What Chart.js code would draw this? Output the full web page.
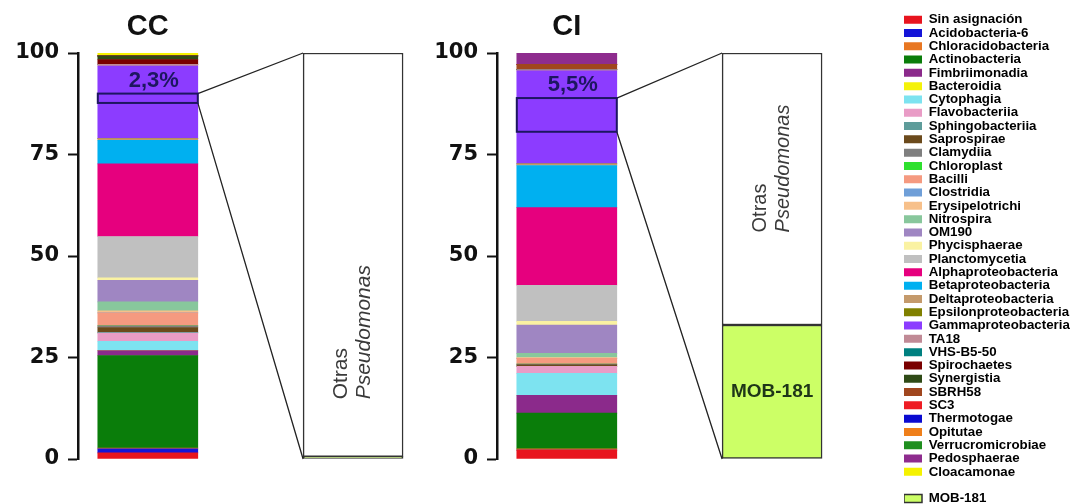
<!DOCTYPE html>
<html>
<head>
<meta charset="utf-8">
<script src="https://cdn.jsdelivr.net/npm/chart.js@4.4.1/dist/chart.umd.min.js"></script>
<style>
  html, body { margin: 0; padding: 0; background: #fff; }
  #wrap { position: relative; width: 1090px; height: 504px; overflow: hidden; }
  canvas { position: absolute; top: 0; }
  #cc { left: 0; }
  #ci { left: 419px; }
  #leg { left: 895px; }
</style>
</head>
<body>
<div id="wrap">
  <canvas id="cc" width="427" height="504"></canvas>
  <canvas id="ci" width="427" height="504"></canvas>
  <canvas id="leg" width="195" height="504"></canvas>
</div>
<script>
/* ===== Datos ===== */
const taxa = [
  'Sin asignación', 'Acidobacteria-6', 'Chloracidobacteria', 'Actinobacteria', 'Fimbriimonadia',
  'Bacteroidia', 'Cytophagia', 'Flavobacteriia', 'Sphingobacteriia', 'Saprospirae',
  'Clamydiia', 'Chloroplast', 'Bacilli', 'Clostridia', 'Erysipelotrichi',
  'Nitrospira', 'OM190', 'Phycisphaerae', 'Planctomycetia', 'Alphaproteobacteria',
  'Betaproteobacteria', 'Deltaproteobacteria', 'Epsilonproteobacteria', 'Gammaproteobacteria', 'TA18',
  'VHS-B5-50', 'Spirochaetes', 'Synergistia', 'SBRH58', 'SC3',
  'Thermotogae', 'Opitutae', 'Verrucromicrobiae', 'Pedosphaerae', 'Cloacamonae'
];
const taxaColors = [
  '#e8141e', '#1414d8', '#e87722', '#0a7d0a', '#8b2a8b',
  '#f4f20a', '#7de3f0', '#e99cc6', '#5e9c9a', '#6b4a1c',
  '#7f7f7f', '#2ee02e', '#f59a80', '#6f9fd8', '#f7c08a',
  '#88c79c', '#9f86c2', '#faf2a2', '#c0c0c0', '#e6007e',
  '#00b0f0', '#c49a6c', '#808000', '#8c3cff', '#c08a96',
  '#008080', '#7a0000', '#2f4a16', '#a0461e', '#ee1c24',
  '#0a0ad0', '#ef7f1a', '#1f8f1f', '#8e2c8e', '#f5f200'
];
// % relativo (CC y CI), mismo orden que taxa, de abajo hacia arriba
const ccValues = [
  1.5, 1.0, 0.2, 22.8, 1.2,
  0, 2.3, 2.0, 0.2, 1.2,
  0.4, 0, 3.2, 0, 0.5,
  2.2, 5.3, 0.6, 10.2, 17.9,
  5.8, 0.4, 0, 17.9, 0.4,
  0, 1.2, 0.9, 0, 0,
  0, 0, 0, 0, 0.7
];
const ciValues = [
  2.2, 0, 0.3, 8.8, 4.4,
  0, 5.4, 1.7, 0, 0.4,
  0.2, 0, 1.4, 0, 0.2,
  1.0, 7.0, 0.9, 8.9, 19.1,
  10.4, 0.4, 0, 22.9, 0.3,
  0, 0, 0, 1.3, 0,
  0, 0, 0, 2.8, 0
];
// Detalle de Pseudomonas: [MOB-181, Otras Pseudomonas]
const zoomLabels = ['MOB-181', 'Otras Pseudomonas'];
const ccZoom = [0.6, 99.4];
const ciZoom = [33, 67];
// Fracción de Gammaproteobacteria resaltada [desde, hasta]
const ccHighlight = [87.7, 90.0];
const ciHighlight = [80.6, 88.9];
const ccPercent = '2,3%';
const ciPercent = '5,5%';
const yTicks = [0, 25, 50, 75, 100];

const mobColor = '#ccff66';
const edgeColor = '#333';
const sans = '"Liberation Sans", Arial, sans-serif';

Chart.defaults.font.family = sans;
Chart.defaults.color = '#111';

/* ===== Overlay: caja resaltada, conectores, textos ===== */
const overlay = {
  id: 'overlay',
  afterDatasetsDraw(chart, args, o) {
    const { ctx, scales: { y } } = chart;
    const n = taxa.length;
    const bar = chart.getDatasetMeta(taxa.indexOf('Gammaproteobacteria')).data[0];
    const mob = chart.getDatasetMeta(n).data[0];
    const otras = chart.getDatasetMeta(n + 1).data[0];
    const left = bar.x - bar.width / 2, right = bar.x + bar.width / 2;
    const top = y.getPixelForValue(o.highlight[1]);
    const bottom = y.getPixelForValue(o.highlight[0]);
    const zl = otras.x - otras.width / 2;

    ctx.save();
    // conectores
    ctx.strokeStyle = '#222';
    ctx.lineWidth = 1.3;
    ctx.beginPath();
    ctx.moveTo(right, top); ctx.lineTo(zl, y.getPixelForValue(100));
    ctx.moveTo(right, bottom); ctx.lineTo(zl, y.getPixelForValue(0));
    ctx.stroke();

    // caja resaltada
    ctx.strokeStyle = '#1d1660';
    ctx.lineWidth = 2;
    ctx.strokeRect(left, top, right - left, bottom - top);

    // porcentaje
    ctx.fillStyle = '#1d1660';
    ctx.font = 'bold 22px ' + sans;
    ctx.textAlign = 'center';
    ctx.textBaseline = 'middle';
    ctx.fillText(o.percent, bar.x + 6, top - 13);

    // título
    ctx.fillStyle = '#111';
    ctx.font = 'bold 29px "Liberation Sans Narrow", ' + sans;
    ctx.fillText(o.title, bar.x, 27);

    // MOB-181
    if (o.showMob) {
      ctx.fillStyle = '#1e3518';
      ctx.font = 'bold 19px ' + sans;
      ctx.fillText(zoomLabels[0], mob.x, (mob.y + mob.base) / 2);
    }

    // Otras Pseudomonas (vertical)
    ctx.translate(otras.x, y.getPixelForValue(o.textAt));
    ctx.rotate(-Math.PI / 2);
    ctx.textAlign = 'left';
    ctx.fillStyle = '#3a3a3a';
    ctx.font = o.textSize + 'px ' + sans;
    ctx.fillText('Otras', 0, -12);
    ctx.font = 'italic ' + o.textSize + 'px ' + sans;
    ctx.fillText('Pseudomonas', 0, 11);
    ctx.restore();
  }
};

function panelDatasets(values, zoom) {
  const ds = taxa.map((name, i) => ({
    label: name,
    data: [{ x: 0, y: values[i] }],
    backgroundColor: taxaColors[i],
    borderWidth: 0
  }));
  ds.push({
    label: zoomLabels[0], data: [{ x: 1, y: zoom[0] }],
    backgroundColor: mobColor, borderColor: edgeColor, borderWidth: 1.5, borderSkipped: false
  });
  ds.push({
    label: zoomLabels[1], data: [{ x: 1, y: zoom[1] }],
    backgroundColor: '#fff', borderColor: edgeColor, borderWidth: 1.5, borderSkipped: false
  });
  return ds;
}

function panel(id, values, zoom, cfg) {
  return new Chart(document.getElementById(id), {
    type: 'bar',
    data: { datasets: panelDatasets(values, zoom) },
    options: {
      responsive: false,
      animation: false,
      devicePixelRatio: 1,
      barThickness: 100,
      layout: { padding: { top: 53, bottom: 45, left: 0, right: 0 } },
      scales: {
        x: { type: 'linear', stacked: true, display: false, offset: false, min: -0.34, max: 1.36 },
        y: {
          stacked: true, min: 0, max: 100,
          afterBuildTicks: s => { s.ticks = yTicks.map(v => ({ value: v })); },
          afterFit: s => { s.width = 78; },
          border: { display: true, color: '#111', width: 2.5 },
          grid: { drawOnChartArea: false, drawTicks: true, tickLength: 10, tickColor: '#111', tickWidth: 2 },
          ticks: { color: '#111', padding: 9, font: { family: '"DejaVu Sans", sans-serif', weight: 'bold', size: 21 } }
        }
      },
      plugins: {
        legend: { display: false },
        tooltip: { enabled: false },
        overlay: cfg
      }
    },
    plugins: [overlay]
  });
}

panel('cc', ccValues, ccZoom, { title: 'CC', percent: ccPercent, highlight: ccHighlight, textAt: 14.7, textSize: 21, showMob: false });
panel('ci', ciValues, ciZoom, { title: 'CI', percent: ciPercent, highlight: ciHighlight, textAt: 55.8, textSize: 20, showMob: true });

/* ===== Leyenda ===== */
new Chart(document.getElementById('leg'), {
  type: 'bar',
  data: { labels: [], datasets: [] },
  options: {
    responsive: false,
    animation: false,
    devicePixelRatio: 1,
    layout: { padding: { top: 13, bottom: -20, left: 9, right: 0 } },
    scales: { x: { display: false }, y: { display: false } },
    plugins: {
      tooltip: { enabled: false },
      legend: {
        position: 'left',
        align: 'start',
        maxWidth: 195,
        labels: {
          boxWidth: 18,
          boxHeight: 8,
          padding: 0,
          color: '#111',
          font: { family: sans, weight: 'bold', size: 13.3 },
          generateLabels: () => taxa.map((t, i) => ({
            text: t, fillStyle: taxaColors[i], strokeStyle: taxaColors[i], lineWidth: 0, hidden: false
          })).concat([
            { text: '', fillStyle: 'rgba(0,0,0,0)', strokeStyle: 'rgba(0,0,0,0)', lineWidth: 0, hidden: false },
            { text: zoomLabels[0], fillStyle: mobColor, strokeStyle: edgeColor, lineWidth: 1.5, hidden: false }
          ])
        }
      }
    }
  }
});
</script>
</body>
</html>
